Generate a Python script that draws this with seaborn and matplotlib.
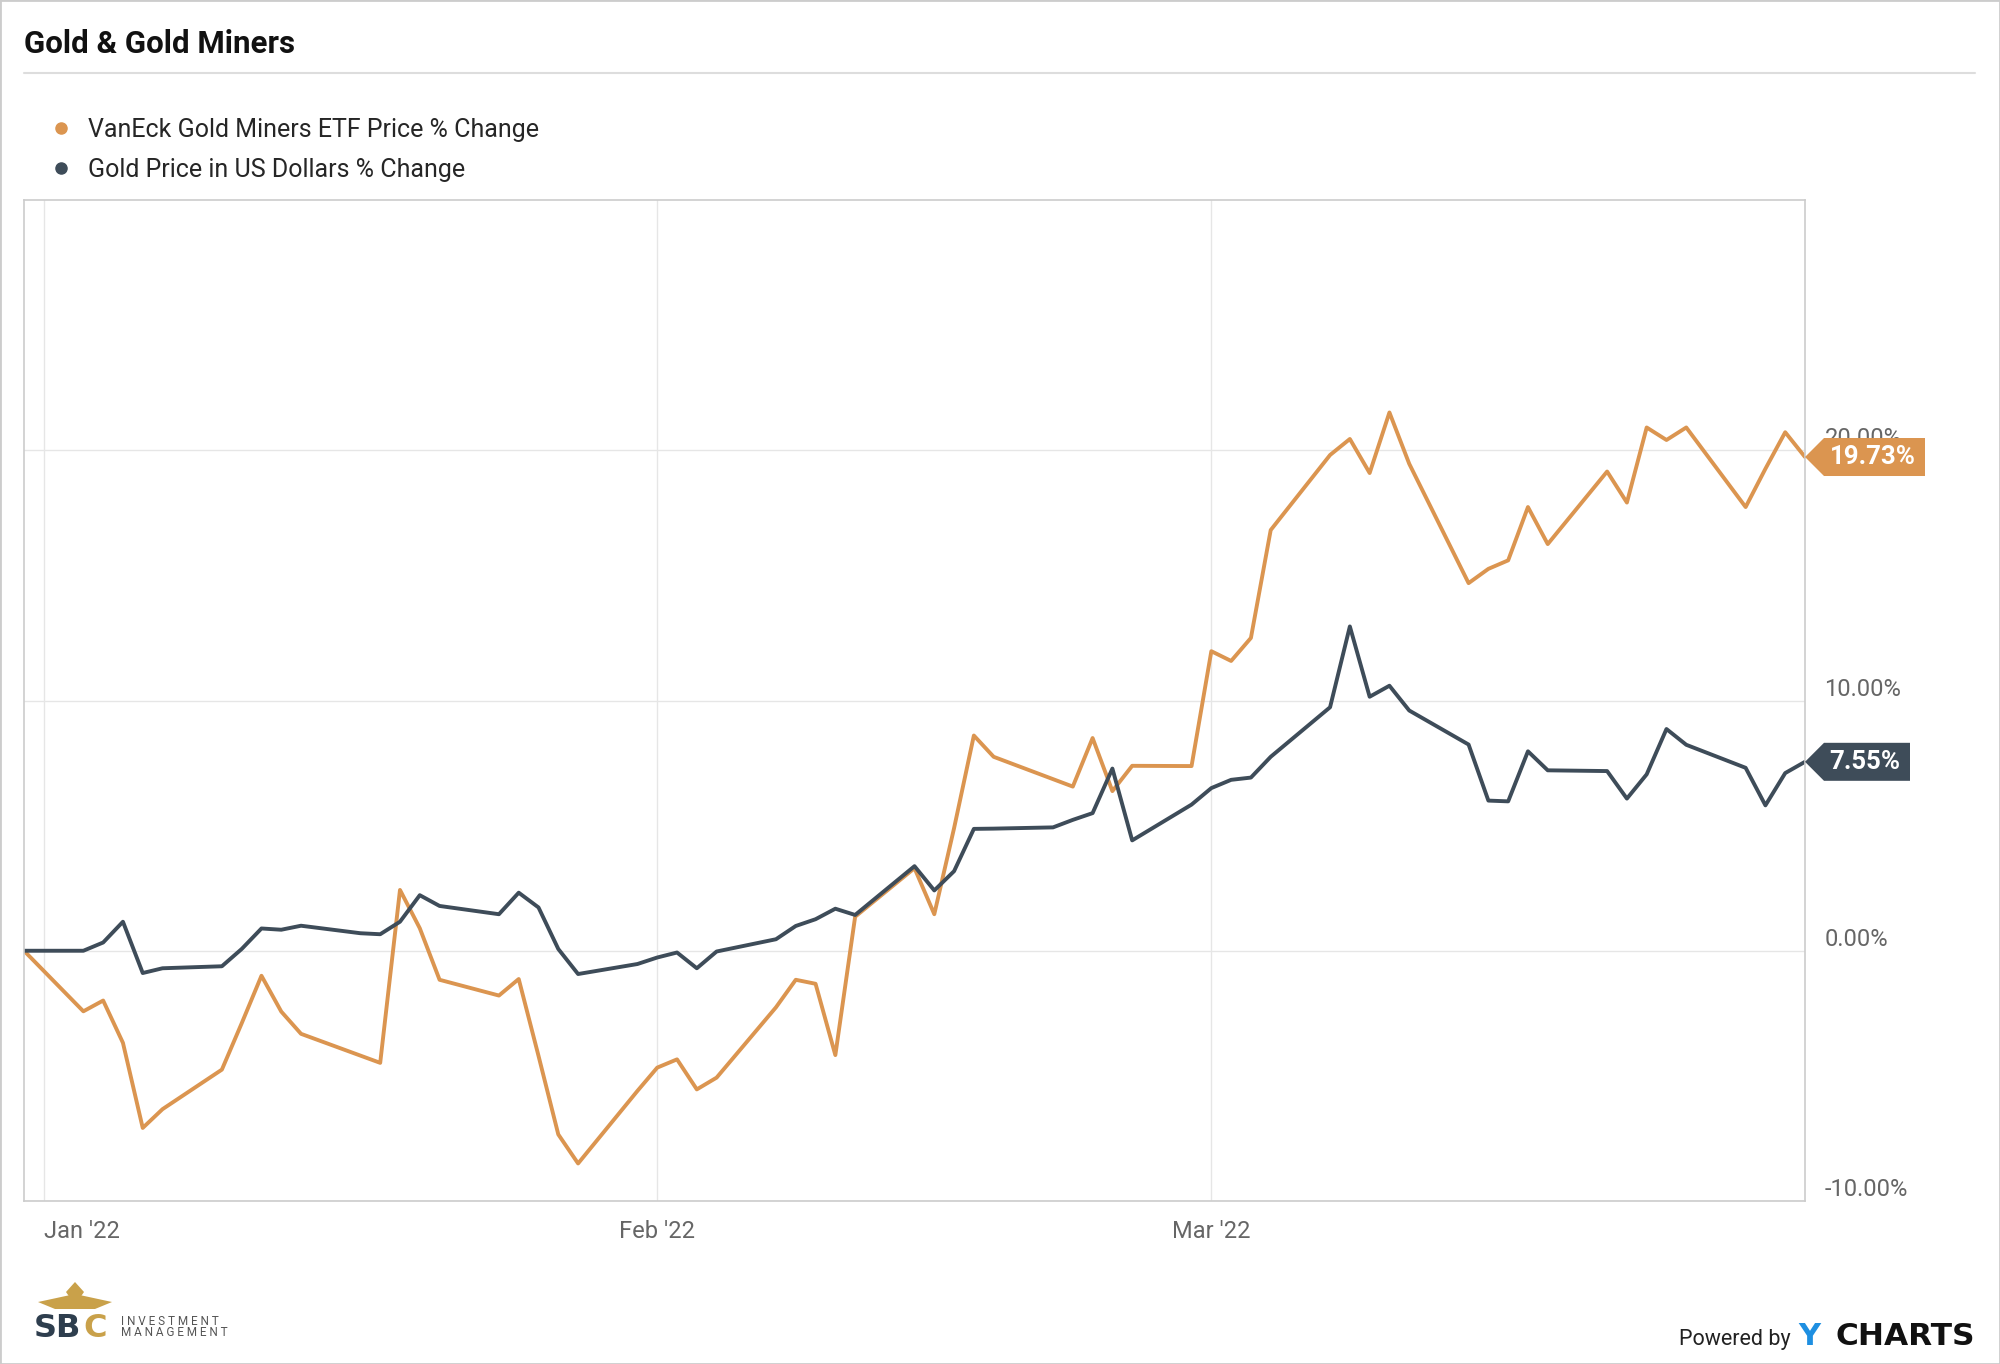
import pandas as pd
import matplotlib
matplotlib.use("Agg")
import matplotlib.pyplot as plt
import matplotlib.dates as mdates
import matplotlib.transforms as mtransforms
from matplotlib.lines import Line2D
from matplotlib.patches import Polygon, Rectangle
import seaborn as sns

# ---- data (% change since 2021-12-31) ----
etf_label = "VanEck Gold Miners ETF Price % Change"
gold_label = "Gold Price in US Dollars % Change"

etf_dates = ["2021-12-31", "2022-01-03", "2022-01-04", "2022-01-05", "2022-01-06", "2022-01-07",
             "2022-01-10", "2022-01-11", "2022-01-12", "2022-01-13", "2022-01-14", "2022-01-18",
             "2022-01-19", "2022-01-20", "2022-01-21", "2022-01-24", "2022-01-25", "2022-01-26",
             "2022-01-27", "2022-01-28", "2022-01-31", "2022-02-01", "2022-02-02", "2022-02-03",
             "2022-02-04", "2022-02-07", "2022-02-08", "2022-02-09", "2022-02-10", "2022-02-11",
             "2022-02-14", "2022-02-15", "2022-02-16", "2022-02-17", "2022-02-18", "2022-02-22",
             "2022-02-23", "2022-02-24", "2022-02-25", "2022-02-28", "2022-03-01", "2022-03-02",
             "2022-03-03", "2022-03-04", "2022-03-07", "2022-03-08", "2022-03-09", "2022-03-10",
             "2022-03-11", "2022-03-14", "2022-03-15", "2022-03-16", "2022-03-17", "2022-03-18",
             "2022-03-21", "2022-03-22", "2022-03-23", "2022-03-24", "2022-03-25", "2022-03-28",
             "2022-03-29", "2022-03-30", "2022-03-31"]
etf_pct = [0.0, -2.42, -1.99, -3.68, -7.08, -6.33,
           -4.75, -2.9, -1.0, -2.43, -3.32, -4.48,
           2.43, 0.9, -1.16, -1.79, -1.13, -4.2,
           -7.34, -8.5, -5.6, -4.67, -4.34, -5.54,
           -5.07, -2.26, -1.16, -1.32, -4.17, 1.36,
           3.3, 1.46, 4.9, 8.6, 7.75, 6.56,
           8.5, 6.38, 7.39, 7.38, 11.97, 11.58,
           12.5, 16.81, 19.81, 20.45, 19.09, 21.51,
           19.46, 14.69, 15.26, 15.6, 17.73, 16.25,
           19.15, 17.91, 20.91, 20.41, 20.91, 17.73,
           19.26, 20.72, 19.73]

gold_dates = ["2021-12-31", "2022-01-03", "2022-01-04", "2022-01-05", "2022-01-06", "2022-01-07",
              "2022-01-10", "2022-01-11", "2022-01-12", "2022-01-13", "2022-01-14", "2022-01-17",
              "2022-01-18", "2022-01-19", "2022-01-20", "2022-01-21", "2022-01-24", "2022-01-25",
              "2022-01-26", "2022-01-27", "2022-01-28", "2022-01-31", "2022-02-01", "2022-02-02",
              "2022-02-03", "2022-02-04", "2022-02-07", "2022-02-08", "2022-02-09", "2022-02-10",
              "2022-02-11", "2022-02-14", "2022-02-15", "2022-02-16", "2022-02-17", "2022-02-18",
              "2022-02-21", "2022-02-22", "2022-02-23", "2022-02-24", "2022-02-25", "2022-02-28",
              "2022-03-01", "2022-03-02", "2022-03-03", "2022-03-04", "2022-03-07", "2022-03-08",
              "2022-03-09", "2022-03-10", "2022-03-11", "2022-03-14", "2022-03-15", "2022-03-16",
              "2022-03-17", "2022-03-18", "2022-03-21", "2022-03-22", "2022-03-23", "2022-03-24",
              "2022-03-25", "2022-03-28", "2022-03-29", "2022-03-30", "2022-03-31"]
gold_pct = [0.0, 0.0, 0.33, 1.16, -0.89, -0.70,
            -0.62, 0.07, 0.89, 0.84, 1.0, 0.70,
            0.66, 1.16, 2.22, 1.79, 1.46, 2.32,
            1.73, 0.07, -0.93, -0.53, -0.27, -0.07,
            -0.7, -0.03, 0.46, 0.99, 1.26, 1.68,
            1.43, 3.38, 2.41, 3.18, 4.87, 4.88,
            4.93, 5.23, 5.5, 7.28, 4.41, 5.84,
            6.5, 6.83, 6.92, 7.75, 9.73, 12.96,
            10.15, 10.59, 9.6, 8.24, 6.0, 5.97,
            7.97, 7.21, 7.18, 6.08, 7.05, 8.86,
            8.23, 7.31, 5.81, 7.1, 7.55]

month_ticks = ["2022-01-01", "2022-02-01", "2022-03-01"]
month_labels = ["Jan '22", "Feb '22", "Mar '22"]
y_ticks = [-10, 0, 10, 20]

orange = "#DB9550"
navy = "#3E4C59"

df = pd.concat([
    pd.DataFrame({"date": pd.to_datetime(etf_dates), "pct": etf_pct, "series": etf_label}),
    pd.DataFrame({"date": pd.to_datetime(gold_dates), "pct": gold_pct, "series": gold_label}),
])

sns.set_style("white")
plt.rcParams["font.family"] = ["Roboto", "DejaVu Sans"]

W, H = 2000, 1364
fig = plt.figure(figsize=(W / 100, H / 100), dpi=100)
fig.patch.set_facecolor("white")

# plot area in pixels: left 24, right 1805, top 200, bottom 1201
ax = fig.add_axes([24 / W, 1 - 1201 / H, (1805 - 24) / W, (1201 - 200) / H])
sns.lineplot(data=df, x="date", y="pct", hue="series", hue_order=[etf_label, gold_label],
             palette=[orange, navy], linewidth=2.8, estimator=None, sort=False,
             legend=False, ax=ax)

ax.set_xlim(pd.Timestamp("2021-12-31"), pd.Timestamp("2022-03-31"))
ax.set_ylim(-10, 30)
ax.set_xlabel("")
ax.set_ylabel("")

ax.set_xticks(pd.to_datetime(month_ticks), labels=month_labels)
ax.get_xticklabels()[0].set_ha("left")
ax.yaxis.tick_right()
ax.set_yticks(y_ticks, labels=[f"{v:.2f}%" for v in y_ticks], va="bottom")
ax.tick_params(axis="both", length=0, labelsize=17, labelcolor="#666666")
ax.tick_params(axis="x", pad=14)
ax.tick_params(axis="y", pad=14)
ax.grid(True, color="#e6e6e6", linewidth=1.0)
for s in ax.spines.values():
    s.set_visible(True)
    s.set_color("#cccccc")
    s.set_linewidth(1.2)

# end-of-series value tags
ident = mtransforms.IdentityTransform()
x_end = mdates.date2num(pd.Timestamp("2022-03-31"))
for val, col, boxw in [(etf_pct[-1], orange, 101), (gold_pct[-1], navy, 86)]:
    xr, yc = ax.transData.transform((x_end, val))
    head, hh = 19, 19
    verts = [(xr, yc), (xr + head, yc + hh), (xr + head + boxw, yc + hh),
             (xr + head + boxw, yc - hh), (xr + head, yc - hh)]
    fig.add_artist(Polygon(verts, closed=True, facecolor=col, edgecolor="none",
                           transform=ident, zorder=5))
    fig.text(xr + head + boxw / 2 - 2, yc, f"{val:.2f}%", transform=ident, ha="center",
             va="center", color="white", fontsize=18.5, fontweight="bold", zorder=6)

# title + separator
fig.text(24 / W, 1 - 44 / H, "Gold & Gold Miners", ha="left", va="center",
         fontsize=22.5, fontweight="bold", color="#111111")
fig.add_artist(Line2D([24 / W, 1975 / W], [1 - 73 / H, 1 - 73 / H],
                      color="#dddddd", linewidth=1.5, transform=fig.transFigure))

# legend
handles = [Line2D([], [], marker="o", linestyle="none", markersize=8,
                  markerfacecolor=c, markeredgecolor=c) for c in (orange, navy)]
fig.legend(handles, [etf_label, gold_label], loc="upper left",
           bbox_to_anchor=(48 / W, 1 - 118 / H), frameon=False, borderaxespad=0,
           borderpad=0, handlelength=1.0, handletextpad=0.6, labelspacing=0.62,
           prop={"size": 18})

# footer: logo text and "Powered by YCHARTS"
gold_c = "#C9A14A"
wing = [(38, 1302), (75, 1294), (112, 1302), (95, 1309), (55, 1309)]
fig.add_artist(Polygon([(x, H - y) for x, y in wing], closed=True, facecolor=gold_c,
                       edgecolor="none", transform=ident))
fig.add_artist(Polygon([(x, H - y) for x, y in [(66, 1292), (75, 1282), (84, 1292), (75, 1305)]],
                       closed=True, facecolor=gold_c, edgecolor="none", transform=ident))
fig.text(34, H - 1337, "SB", transform=ident, ha="left", va="baseline",
         fontsize=23, fontweight="bold", family="DejaVu Sans", color="#2E3E4E")
fig.text(83, H - 1337, "C", transform=ident, ha="left", va="baseline",
         fontsize=23, fontweight="bold", family="DejaVu Sans", color=gold_c)
fig.text(121, H - 1325, "I N V E S T M E N T", transform=ident, ha="left", va="baseline",
         fontsize=8.5, color="#555555")
fig.text(121, H - 1336, "M A N A G E M E N T", transform=ident, ha="left", va="baseline",
         fontsize=8.5, color="#555555")

fig.text(1679, H - 1345, "Powered by", transform=ident, ha="left", va="baseline",
         fontsize=15.5, color="#222222")
fig.text(1798, H - 1345, "Y", transform=ident, ha="left", va="baseline",
         fontsize=22, fontweight="bold", family="DejaVu Sans", color="#1E8FE1")
fig.text(1975, H - 1345, "CHARTS", transform=ident, ha="right", va="baseline",
         fontsize=22.5, fontweight="bold", family="DejaVu Sans", color="#111111")

# outer frame
fig.add_artist(Rectangle((0, 0), 1, 1, transform=fig.transFigure, fill=False,
                         edgecolor="#cccccc", linewidth=2))

fig.savefig("out.png", dpi=100, facecolor="white")
